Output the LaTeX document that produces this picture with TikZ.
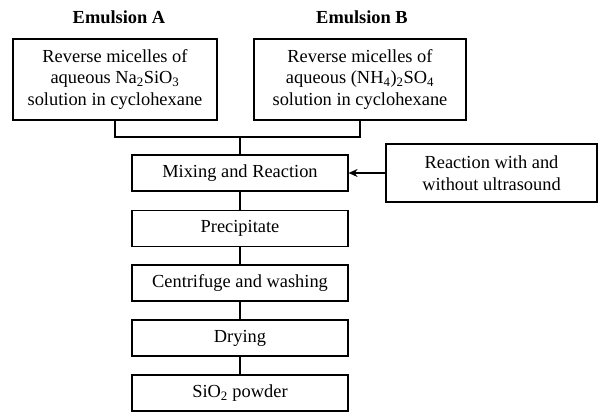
\documentclass[tikz,border=0pt]{standalone}
\usepackage{fontspec}
\setmainfont{Liberation Serif}
\usetikzlibrary{arrows.meta}

\begin{document}
\begin{tikzpicture}[x=1pt,y=-1pt,
  font=\fontsize{18.4}{21.5}\selectfont,
  line width=1.2pt,
  box/.style={draw,align=center,inner sep=0pt},
  stepbox/.style={box,minimum width=216pt,minimum height=36pt},
  srcbox/.style={box,minimum height=81pt},
  head/.style={font=\fontsize{18.4}{21.5}\selectfont\bfseries}]
\useasboundingbox (0,0) rectangle (600,412);
% emulsions
\node[head] (emA) at (119,17) {Emulsion A};
\node[head] (emB) at (362,17) {Emulsion B};
\node[srcbox,minimum width=204pt] (boxA) at (115,79.5) {Reverse micelles of\\aqueous Na\textsubscript{2}SiO\textsubscript{3}\\solution in cyclohexane};
\node[srcbox,minimum width=212pt] (boxB) at (360,79.5) {Reverse micelles of\\aqueous (NH\textsubscript{4})\textsubscript{2}SO\textsubscript{4}\\solution in cyclohexane};
% process steps
\node[stepbox] (mix) at (240,173) {Mixing and Reaction};
\node[stepbox] (prec) at (240,228.5) {Precipitate};
\node[stepbox] (cent) at (240,283) {Centrifuge and washing};
\node[stepbox] (dry) at (240,338) {Drying};
\node[stepbox] (sio) at (240,393) {SiO\textsubscript{2} powder};
\node[box,minimum width=211pt,minimum height=58pt] (react) at (491.5,173) {Reaction with and\\without ultrasound};
% connectors
\coordinate (join) at (240,137);
\draw (boxA.south) |- (join) -| (boxB.south);
\draw (join) -- (mix.north);
\foreach \a/\b in {mix/prec,prec/cent,cent/dry,dry/sio}
  \draw (\a.south) -- (\b.north);
\draw[-{Stealth[length=9pt,width=8pt]}] (react.west) -- (mix.east);
\end{tikzpicture}
\end{document}
